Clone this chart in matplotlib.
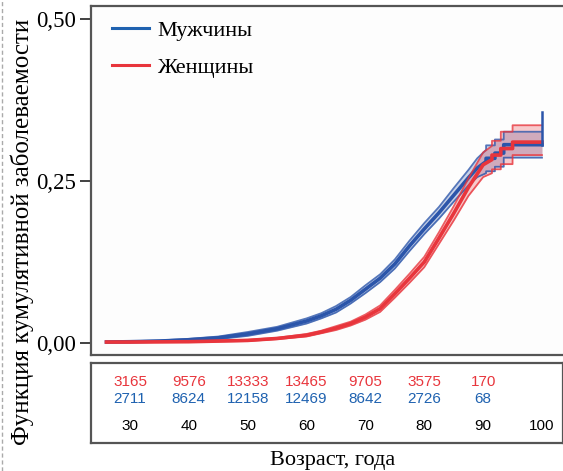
import numpy as np
import matplotlib
matplotlib.use("Agg")
import matplotlib.pyplot as plt
from matplotlib.lines import Line2D

# данные
ages_m = [26, 30, 35, 40, 45, 50, 55, 60, 62.5, 65, 67.5, 70, 72.5, 75, 77.5, 80, 82.5, 85, 87.5, 89,
          90.5, 90.5, 92, 92, 93.5, 93.5, 100]
cum_m = [.0015, .002, .003, .005, .008, .014, .022, .034, .042, .052, .066, .083, .100, .122, .150, .176, .201, .228, .255, .270,
         .280, .285, .285, .293, .293, .306, .306]
lo_m = [.001, .0012, .002, .0035, .006, .011, .019, .030, .038, .047, .061, .077, .094, .115, .142, .168, .192, .218, .243, .256,
        .262, .265, .265, .272, .272, .286, .286]
hi_m = [.002, .0028, .004, .0065, .010, .017, .025, .038, .046, .057, .071, .089, .106, .129, .158, .185, .210, .239, .267, .285,
        .298, .305, .305, .314, .314, .326, .326]
spike_m = 0.356

ages_f = [26, 30, 40, 50, 55, 60, 62.5, 65, 67.5, 70, 72.5, 75, 77.5, 80, 82.5, 85, 87.5, 90,
          91.5, 91.5, 93, 93, 95, 95, 100]
cum_f = [.0015, .0015, .002, .004, .007, .012, .017, .023, .030, .040, .053, .076, .100, .125, .162, .200, .240, .275,
         .283, .290, .290, .300, .300, .310, .310]
lo_f = [.001, .001, .0015, .003, .006, .010, .015, .020, .027, .036, .048, .070, .093, .117, .153, .189, .227, .256,
        .262, .268, .268, .276, .276, .290, .290]
hi_f = [.002, .002, .0025, .005, .008, .014, .019, .026, .033, .044, .058, .082, .107, .133, .171, .211, .254, .294,
        .304, .312, .312, .326, .326, .336, .336]

tick_ages = [30, 40, 50, 60, 70, 80, 90, 100]
n_f = ["3165", "9576", "13333", "13465", "9705", "3575", "170"]
n_m = ["2711", "8624", "12158", "12469", "8642", "2726", "68"]

blue = "#2b55aa"
red = "#e8353c"
serif = "Liberation Serif"
sans = "Liberation Sans"

fig = plt.figure(figsize=(5.63, 4.71), dpi=100)
ax = fig.add_axes([91/563, 1-355/471, 1-91/563, (355-6)/471])
tb = fig.add_axes([91/563, 1-443/471, 1-91/563, (443-363)/471])
ax.set_facecolor("#fdfdfd")

for a, c, lo, hi, col in [(ages_m, cum_m, lo_m, hi_m, blue), (ages_f, cum_f, lo_f, hi_f, red)]:
    ax.fill_between(a, lo, hi, color=col, alpha=0.25, lw=0)
    ax.plot(a, lo, color=col, lw=1.3, alpha=0.8)
    ax.plot(a, hi, color=col, lw=1.3, alpha=0.8)
    ax.plot(a, c, color=col, lw=2.6)
ax.plot([ages_m[-1], ages_m[-1]], [cum_m[-1], spike_m], color=blue, lw=1.8)

ax.set_xlim(23.37, 103.57)
ax.set_ylim(-0.0185, 0.52)
ax.set_xticks([])
ax.set_yticks([0, 0.25, 0.5])
ax.set_yticklabels(["0,00", "0,25", "0,50"], fontfamily=serif, fontsize=16.5)
ax.tick_params(axis="y", length=8, width=1.3, color="#333", pad=3)
ax.spines["right"].set_visible(False)
for s in ["left", "top", "bottom"]:
    ax.spines[s].set_color("#555")
    ax.spines[s].set_linewidth(1.6)

handles = [Line2D([], [], color="#1f62b0", lw=2.2), Line2D([], [], color=red, lw=2.2)]
ax.legend(handles, ["Мужчины", "Женщины"], loc="upper left", frameon=False,
          prop={"family": serif, "size": 16}, labelspacing=0.75, handlelength=1.7,
          handletextpad=0.35, borderaxespad=0, bbox_to_anchor=(0.025, 0.985))

tb.set_xlim(23.37, 103.57)
tb.set_ylim(0, 1)
tb.set_xticks([])
tb.set_yticks([])
for s in tb.spines.values():
    s.set_color("#555")
    s.set_linewidth(1.6)
for i, x in enumerate(tick_ages):
    if i < len(n_f):
        tb.text(x, 0.76, n_f[i], color=red, ha="center", va="center", fontfamily=sans, fontsize=11)
        tb.text(x, 0.55, n_m[i], color="#1f62b0", ha="center", va="center", fontfamily=sans, fontsize=11)
    tb.text(x, 0.21, str(x), color="black", ha="center", va="center", fontfamily=sans, fontsize=11)

fig.text(22/563, 1-232/471, "Функция кумулятивной заболеваемости", fontfamily=serif, fontsize=18,
         rotation=90, ha="center", va="center")
fig.text(333/563, 1-460/471, "Возраст, года", fontfamily=serif, fontsize=16, ha="center", va="center")
fig.add_artist(Line2D([2/563, 2/563], [0, 1], color="#aaa", lw=1, ls=(0, (3, 2))))

fig.savefig("out.png", dpi=100)
